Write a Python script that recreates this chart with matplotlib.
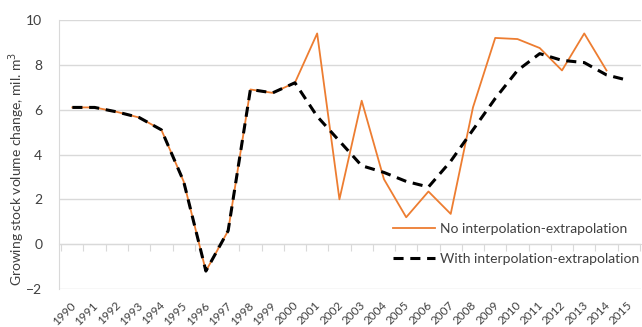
import numpy as np
import matplotlib
matplotlib.use("Agg")
import matplotlib.pyplot as plt

years = [str(y) for y in range(1990, 2016)]

# growing stock volume change, mil. m3
no_interp = [6.1, 6.1, 5.9, 5.65, 5.1, 2.8, -1.2, 0.6, 6.9, 6.75, 7.2,
             9.4, 2.0, 6.4, 2.9, 1.2, 2.35, 1.35, 6.1, 9.2, 9.15, 8.75,
             7.75, 9.4, 7.75]
with_interp = [6.1, 6.1, 5.9, 5.65, 5.1, 2.8, -1.2, 0.6, 6.9, 6.75, 7.2,
               5.7, 4.6, 3.5, 3.2, 2.8, 2.55, 3.7, 5.1, 6.5, 7.75, 8.5,
               8.2, 8.1, 7.55, 7.3]

font = ["Lato", "DejaVu Sans"]
plt.rcParams["font.family"] = font
txt = "#404040"
grid_c = "#d9d9d9"

fig = plt.figure(figsize=(6.42, 3.27), dpi=100)
ax = fig.add_axes([59 / 642, 1 - 289 / 327, 582 / 642, 269 / 327])

x = np.arange(len(years))
ax.plot(x[:len(no_interp)], no_interp, color="#ED7D31", lw=1.3,
        label="No interpolation-extrapolation", zorder=3)
ax.plot(x, with_interp, color="black", lw=2.2, dashes=(3.3, 2.2),
        label="With interpolation-extrapolation", zorder=4)

ax.set_xlim(-0.6, len(years) - 0.45)
ax.set_ylim(-2, 10)
ax.set_yticks(range(-2, 11, 2))
ax.yaxis.grid(True, color=grid_c, lw=1)
ax.set_axisbelow(True)
ax.tick_params(axis="y", length=0, pad=12, labelsize=10, labelcolor=txt)

for s in ["top", "right"]:
    ax.spines[s].set_visible(False)
ax.spines["left"].set_color(grid_c)
ax.spines["bottom"].set_position(("data", 0))
ax.spines["bottom"].set_color(grid_c)

# category boundary ticks on the zero line, year labels at the bottom
ax.set_xticks(np.arange(-0.5, len(years), 1))
ax.tick_params(axis="x", length=5, color=grid_c, labelbottom=False)
for i, yr in enumerate(years):
    ax.text(i + 0.25, -0.04, yr, transform=ax.get_xaxis_transform(),
            rotation=45, ha="right", va="top", fontsize=8.5, color=txt)

fig.text(17 / 642, 1 - 169 / 327, "Growing stock volume change, mil. m$^3$",
         rotation=90, ha="center", va="center", fontsize=10, color=txt)

ax.legend(loc="center left", bbox_to_anchor=(0.574, 0.167), frameon=False,
          borderaxespad=0, borderpad=0, handlelength=3, handletextpad=0.4,
          labelspacing=1.3, fontsize=10, labelcolor=txt)

fig.savefig("out.png", dpi=100)
